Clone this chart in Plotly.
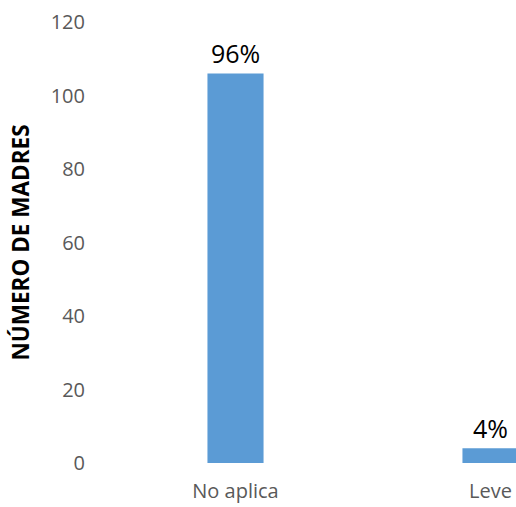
import plotly.graph_objects as go

categories = ["No aplica", "Leve"]
values = [106, 4]
labels = ["96%", "4%"]

FONT = "Open Sans"

fig = go.Figure(go.Bar(
    x=categories, y=values,
    text=labels, textposition="outside", cliponaxis=False,
    textfont=dict(family=FONT, size=25, color="#000000"),
    marker=dict(color="#5B9BD5", line=dict(width=0)),
    width=0.22,
    hoverinfo="skip",
))

fig.update_layout(
    width=516, height=507,
    margin=dict(l=108, r=0, t=22, b=44, autoexpand=False),
    paper_bgcolor="white", plot_bgcolor="white",
    showlegend=False,
    font=dict(family=FONT, color="#595959"),
    xaxis=dict(range=[-0.5, 1.1], showgrid=False, showline=False, zeroline=False,
               tickfont=dict(family=FONT, size=20, color="#595959"), ticks="",
               ticklabelstandoff=14),
    yaxis=dict(range=[0, 120], dtick=20, showgrid=False, showline=False, zeroline=False,
               tickfont=dict(family=FONT, size=20, color="#595959"), ticks="",
               ticklabelstandoff=22,
               title=dict(text="<b>NÚMERO DE MADRES</b>", standoff=14,
                          font=dict(family=FONT, size=22.5, color="#000000"))),
)

fig.write_html(
    "out.html",
    config={"displayModeBar": False},
    post_script="document.body.style.margin='0';document.body.style.overflow='hidden';",
)
